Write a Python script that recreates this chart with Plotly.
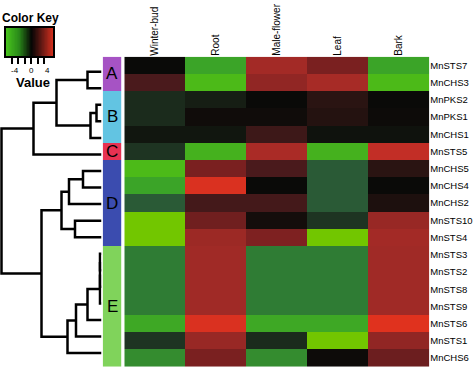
import numpy as np
import plotly.graph_objects as go

# ---------------- data ----------------
columns = ["Winter-bud", "Root", "Male-flower", "Leaf", "Bark"]
rows = ["MnSTS7", "MnCHS3", "MnPKS2", "MnPKS1", "MnCHS1", "MnSTS5", "MnCHS5",
        "MnCHS4", "MnCHS2", "MnSTS10", "MnSTS4", "MnSTS3", "MnSTS2", "MnSTS8",
        "MnSTS9", "MnSTS6", "MnSTS1", "MnCHS6"]
values = [
    [0.0, -4.0, 4.1, 3.0, -4.0],
    [2.0, -5.0, 3.6, 4.2, -5.0],
    [-0.8, -0.5, 0.0, 1.0, 0.0],
    [-0.8, 0.2, 0.2, 0.8, 0.1],
    [-0.3, -0.3, 1.6, -0.2, -0.2],
    [-1.0, -4.6, 4.3, -4.6, 5.0],
    [-5.0, 3.0, 2.0, -2.0, 1.0],
    [-4.0, 5.8, 0.0, -2.0, 0.0],
    [-2.0, 1.8, 1.8, -2.0, 0.6],
    [-6.0, 2.8, 0.3, -1.0, 3.8],
    [-6.0, 3.9, 3.1, -6.0, 4.1],
    [-3.0, 4.0, -3.0, -3.0, 4.0],
    [-3.0, 4.0, -3.0, -3.0, 4.0],
    [-3.0, 4.0, -3.0, -3.0, 4.0],
    [-3.0, 4.0, -3.0, -3.0, 4.0],
    [-4.2, 5.8, -4.2, -4.2, 6.0],
    [-1.0, 3.8, -0.8, -6.0, 3.6],
    [-3.4, 3.0, -3.4, 0.1, 2.7],
]
groups = ["A", "A", "B", "B", "B", "C", "D", "D", "D", "D", "D",
          "E", "E", "E", "E", "E", "E", "E"]
group_names = ["A", "B", "C", "D", "E"]
group_colors = ["#a653c4", "#62c4e2", "#e63252", "#3b4caf", "#80d35b"]

# linkage: (left id, right id, height); leaves are 0..17, new nodes 18..
merges = [
    (0, 1, 14), (2, 3, 5), (19, 4, 11), (18, 20, 45), (21, 5, 68),
    (6, 7, 18.5), (23, 8, 32.5), (9, 10, 26.5), (24, 25, 40),
    (11, 12, 1.5), (27, 13, 1.5), (28, 14, 1.5), (29, 15, 14),
    (30, 16, 25.5), (31, 17, 34), (26, 32, 60), (22, 33, 100),
]

key_ticks = [-6, -4, -2, 0, 2, 4]
key_labels = ["-4", "0", "4"]
key_label_pos = [-5.2, 0, 5.2]

# ---------------- figure ----------------
W, H = 473, 368
fig = go.Figure()

main_scale = [
    [0.0, "#72c600"], [1 / 12, "#4cba18"], [2 / 12, "#3ba428"],
    [3 / 12, "#2f7c34"], [4 / 12, "#2a5a36"], [5 / 12, "#1e3422"],
    [5.5 / 12, "#161e14"], [6 / 12, "#0a0a08"], [7 / 12, "#2a1412"],
    [8 / 12, "#4a1a1c"], [9 / 12, "#7a2020"], [10 / 12, "#a02a26"],
    [11 / 12, "#c22e26"], [1.0, "#e0321e"],
]
fig.add_trace(go.Heatmap(
    z=values, x=list(range(len(columns))), y=list(range(len(rows))),
    colorscale=main_scale, zmin=-6, zmax=6, showscale=False,
    xaxis="x", yaxis="y", hoverinfo="skip"))

# group bar
gidx = [group_names.index(g) for g in groups]
n = len(group_names)
gscale = []
for i, c in enumerate(group_colors):
    gscale.append([i / n, c])
    gscale.append([(i + 1) / n, c])
fig.add_trace(go.Heatmap(
    z=[[g] for g in gidx], x=[0], y=list(range(len(rows))),
    colorscale=gscale, zmin=-0.5, zmax=n - 0.5, showscale=False,
    xaxis="x2", yaxis="y", hoverinfo="skip"))

# dendrogram
ypos = {i: float(i) for i in range(len(rows))}
hpos = {i: 0.0 for i in range(len(rows))}
xs, ys = [], []
for k, (a, b, h) in enumerate(merges):
    nid = len(rows) + k
    xs += [-hpos[a], -h, -h, -hpos[b], None]
    ys += [ypos[a], ypos[a], ypos[b], ypos[b], None]
    ypos[nid] = (ypos[a] + ypos[b]) / 2
    hpos[nid] = h
fig.add_trace(go.Scatter(x=xs, y=ys, mode="lines",
                         line=dict(color="black", width=2.5),
                         xaxis="x3", yaxis="y3", hoverinfo="skip"))

# colour key
kmin, kmax = -7.9, 6.8
kx = np.linspace(kmin, kmax, 80)
z0 = (0 - kmin) / (kmax - kmin)
fig.add_trace(go.Heatmap(
    z=[kx], x=kx, y=[0],
    colorscale=[[0, "#48c41c"], [z0 * 0.5, "#2a8a1a"], [z0, "#050505"],
                [z0 + (1 - z0) * 0.5, "#6a1a14"], [1, "#d8301e"]],
    zmin=kmin, zmax=kmax, showscale=False,
    xaxis="x4", yaxis="y4", hoverinfo="skip"))

def px_x(a, b):
    return [a / W, b / W]

def px_y(top, bottom):
    return [1 - bottom / H, 1 - top / H]

fig.update_layout(
    width=W, height=H, margin=dict(l=0, r=0, t=0, b=0, autoexpand=False),
    paper_bgcolor="white", plot_bgcolor="white", showlegend=False,
    font=dict(family="Liberation Sans, Arial, sans-serif", color="black"),
    xaxis=dict(domain=px_x(124.3, 429.3), range=[-0.5, 4.5], side="top",
               tickvals=list(range(len(columns))), ticktext=columns,
               tickangle=-90, ticks="", showgrid=False, zeroline=False,
               tickfont=dict(size=10), anchor="y", automargin=False),
    yaxis=dict(domain=px_y(56.7, 366.7), range=[17.5, -0.5], side="right",
               tickvals=list(range(len(rows))), ticktext=rows, ticks="",
               showgrid=False, zeroline=False, tickfont=dict(size=9.5),
               anchor="x", automargin=False),
    xaxis2=dict(domain=px_x(102.7, 121.3), range=[-0.5, 0.5], visible=False,
                anchor="y", automargin=False),
    xaxis3=dict(domain=px_x(0, 101.5), range=[-101.5, 0], visible=False,
                anchor="y3", automargin=False),
    yaxis3=dict(domain=px_y(63.4, 361.3), range=[17.5, -0.5], visible=False,
                anchor="x3", automargin=False),
    xaxis4=dict(domain=px_x(6, 53), range=[kmin, kmax], anchor="y4",
                tickvals=key_ticks, showticklabels=False, ticks="outside",
                ticklen=6, tickwidth=2, tickcolor="black",
                showline=True, mirror=True, linewidth=2, linecolor="black",
                showgrid=False, zeroline=False, automargin=False),
    yaxis4=dict(domain=px_y(28, 56), range=[-0.5, 0.5], anchor="x4",
                showticklabels=False, ticks="", showline=True, mirror=True,
                linewidth=2, linecolor="black", showgrid=False, zeroline=False,
                automargin=False),
)

ann = [
    dict(text="<b>Color Key</b>", x=30 / W, y=1 - 18 / H, xref="paper",
         yref="paper", xanchor="center", yanchor="middle", showarrow=False,
         font=dict(size=12)),
    dict(text="<b>Value</b>", x=32.5 / W, y=1 - 82 / H, xref="paper",
         yref="paper", xanchor="center", yanchor="middle", showarrow=False,
         font=dict(size=13)),
]
for lab, pos in zip(key_labels, key_label_pos):
    ann.append(dict(text=lab, x=pos, y=1 - 70 / H, xref="x4", yref="paper",
                    xanchor="center", yanchor="middle", showarrow=False,
                    font=dict(size=8)))
for g in group_names:
    idx = [i for i, gg in enumerate(groups) if gg == g]
    ann.append(dict(text=g, x=0, y=sum(idx) / len(idx), xref="x2", yref="y",
                    xanchor="center", yanchor="middle", showarrow=False,
                    font=dict(size=17)))
fig.update_layout(annotations=ann)

fig.write_html("out.html", config={"displayModeBar": False},
               post_script="document.body.style.margin='0';")
